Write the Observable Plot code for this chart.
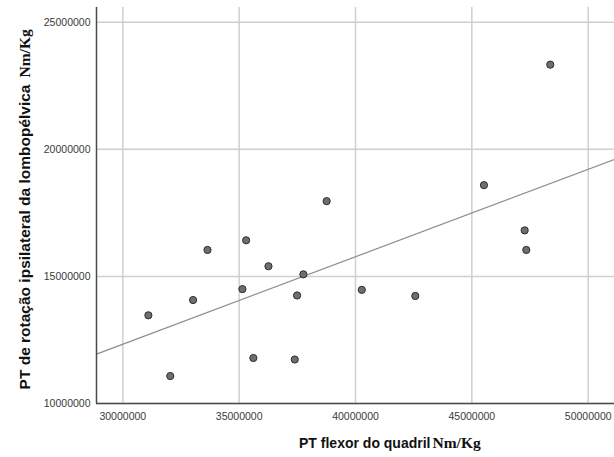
<!DOCTYPE html>
<html>
<head>
<meta charset="utf-8">
<script src="https://cdn.jsdelivr.net/npm/d3@7"></script>
<script src="https://cdn.jsdelivr.net/npm/@observablehq/plot@0.6"></script>
<style>
  html, body { margin: 0; padding: 0; background: #fff; }
  #chart svg { display: block; }
</style>
</head>
<body>
<div id="chart"></div>
<script>
// Data (Nm/Kg)
const hipFlexor = [31100000, 32040000, 33020000, 33640000, 35140000, 35300000, 35610000, 36260000, 37390000,
                   37490000, 37760000, 38760000, 40270000, 42570000, 45520000, 47270000, 47340000, 48370000];
const lumbopelvicRotation = [13470000, 11080000, 14070000, 16040000, 14500000, 16420000, 11790000, 15400000, 11730000,
                   14250000, 15080000, 17960000, 14470000, 14230000, 18590000, 16810000, 16040000, 23330000];

const xTicks = [30000000, 35000000, 40000000, 45000000, 50000000];
const yTicks = [10000000, 15000000, 20000000, 25000000];
const xDomain = [28870000, 51130000];
const yDomain = [10000000, 25578000];

const xTitle = ["PT flexor do quadril", "Nm/Kg"];
const yTitle = ["PT de rotação ipsilateral da lombopélvica", "Nm/Kg"];

const points = hipFlexor.map((x, i) => ({x, y: lumbopelvicRotation[i]}));

// Least-squares fit line, drawn across the whole x domain
const mx = d3.mean(hipFlexor), my = d3.mean(lumbopelvicRotation);
const slope = d3.sum(points, d => (d.x - mx) * (d.y - my)) / d3.sum(points, d => (d.x - mx) ** 2);
const intercept = my - slope * mx;
const fit = xDomain.map(x => ({x, y: intercept + slope * x}));

const sans = "'Liberation Sans', Arial, sans-serif";
const serif = "'Liberation Serif', 'Times New Roman', serif";

const chart = Plot.plot({
  width: 614,
  height: 457,
  marginLeft: 96,
  marginRight: 0,
  marginTop: 7,
  marginBottom: 54,
  style: {fontFamily: sans, fontSize: "10.5px", color: "#3a3a3a", background: "#fff"},
  x: {domain: xDomain, ticks: xTicks, tickFormat: d3.format("d"), tickSize: 0, tickPadding: 9, label: null},
  y: {domain: yDomain, ticks: yTicks, tickFormat: d3.format("d"), tickSize: 0, tickPadding: 6, label: null},
  marks: [
    Plot.ruleX(xTicks, {stroke: "#cfcfcf", strokeWidth: 1.5}),
    Plot.ruleY(yTicks, {stroke: "#cfcfcf", strokeWidth: 1.5}),
    Plot.line(fit, {x: "x", y: "y", stroke: "#8c8c8c", strokeWidth: 1.2}),
    Plot.ruleX([xDomain[0]], {stroke: "#4a4a4a", strokeWidth: 1.5}),
    Plot.ruleY([yDomain[0]], {stroke: "#4a4a4a", strokeWidth: 1.5}),
    Plot.dot(points, {x: "x", y: "y", r: 3.6, fill: "#6e6e6e", stroke: "#2e2e2e", strokeWidth: 1}),
    // x-axis title: bold sans + bold serif unit
    Plot.text([xTitle[0]], {text: d => d, frameAnchor: "bottom-left", textAnchor: "end", lineAnchor: "bottom",
      dx: 334, dy: 44.7, fontFamily: sans, fontWeight: "bold", fontSize: 14, fill: "#111",
      letterSpacing: "0.75px"}),
    Plot.text([xTitle[1]], {text: d => d, frameAnchor: "bottom-left", textAnchor: "start", lineAnchor: "bottom",
      dx: 336, dy: 44.7, fontFamily: serif, fontWeight: "bold", fontSize: 15.5, fill: "#111"}),
    // y-axis title, rotated
    Plot.text([yTitle[0]], {text: d => d, frameAnchor: "top-left", textAnchor: "end", lineAnchor: "bottom",
      rotate: -90, dx: -66.5, dy: 77, fontFamily: sans, fontWeight: "bold", fontSize: 15.5, fill: "#111"}),
    Plot.text([yTitle[1]], {text: d => d, frameAnchor: "top-left", textAnchor: "start", lineAnchor: "bottom",
      rotate: -90, dx: -66.5, dy: 70, fontFamily: serif, fontWeight: "bold", fontSize: 15.5, fill: "#111"})
  ]
});
document.getElementById("chart").appendChild(chart);
</script>
</body>
</html>
